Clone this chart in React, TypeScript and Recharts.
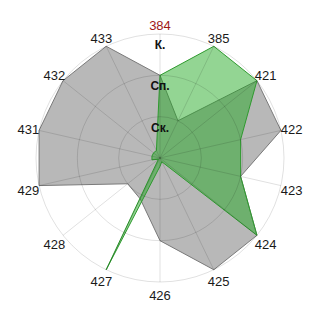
import { RadarChart, Radar, PolarGrid, PolarAngleAxis, PolarRadiusAxis } from 'recharts';

const categories = ['384', '385', '421', '422', '423', '424', '425', '426', '427', '428', '429', '431', '432', '433'];
const grayValues = [2, 1, 3, 3, 2, 3, 3, 2, 1.1, 1, 3, 3, 3, 3];
const greenValues = [2, 3, 3, 2, 2, 3, 0.1, 0.2, 3, 0.05, 0.2, 0.2, 0.2, 0.2];
const levelLabels = ['', 'Ск.', 'Сп.', 'К.'];

const data = categories.map((name, i) => ({
  name,
  gray: grayValues[i],
  green: greenValues[i],
}));

const CX = 160;
const CY = 158;
const R = 124;

// category labels sit on a ring just outside the grid
const AngleTick = (props: any) => {
  const { payload } = props;
  const idx = categories.indexOf(payload.value);
  const a = (idx / categories.length) * Math.PI * 2;
  const x = CX + 135 * Math.sin(a);
  const y = CY + 2 - 135 * Math.cos(a);
  return (
    <text
      x={x}
      y={y}
      textAnchor="middle"
      dominantBaseline="central"
      fontSize={13}
      fill={payload.value === '384' ? '#a01818' : '#1a1a1a'}
    >
      {payload.value}
    </text>
  );
};

const RadiusTick = (props: any) => {
  const { x, y, payload } = props;
  const label = levelLabels[Math.round(payload.value)];
  if (!label) return null;
  return (
    <text x={x} y={y + 11} textAnchor="middle" dominantBaseline="central" fontSize={12} fontWeight="bold" fill="#111">
      {label}
    </text>
  );
};

const App = () => {
  return (
    <div style={{ position: 'absolute', left: 0, top: 0, width: 320, height: 320, fontFamily: '"Liberation Sans", Arial, sans-serif' }}>
      <RadarChart width={320} height={320} data={data} cx={CX} cy={CY} outerRadius={R} margin={{ top: 0, right: 0, bottom: 0, left: 0 }}>
        <Radar
          dataKey="gray"
          stroke="#7a7a7a"
          strokeWidth={1}
          fill="#b8b8b8"
          fillOpacity={1}
          isAnimationActive={false}
        />
        <Radar
          dataKey="green"
          stroke="#2f9a2f"
          strokeWidth={1}
          fill="#1ea81e"
          fillOpacity={0.48}
          isAnimationActive={false}
        />
        {/* grid drawn over the fills, semi-transparent so it darkens them */}
        <PolarGrid gridType="circle" stroke="#000" strokeOpacity={0.12} zIndex={1000} />
        <PolarAngleAxis dataKey="name" tick={<AngleTick />} tickLine={false} axisLine={false} />
        <PolarRadiusAxis
          angle={90}
          domain={[0, 3]}
          tickCount={4}
          axisLine={false}
          tick={<RadiusTick />}
        />
      </RadarChart>
    </div>
  );
};

export default App;
